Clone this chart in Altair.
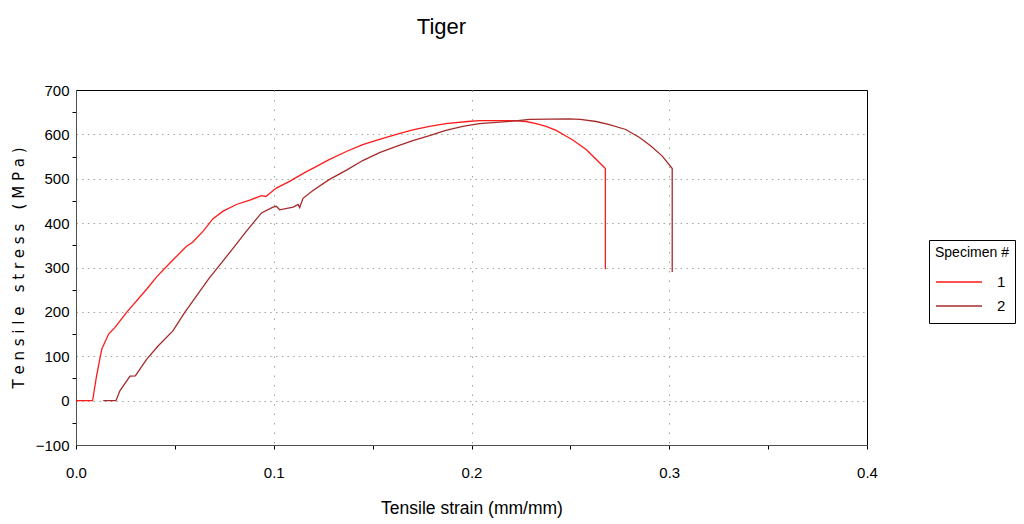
import altair as alt
import pandas as pd

# ---- data ----
s1_strain = [0.0, 0.0084, 0.0104, 0.013, 0.0165, 0.0197, 0.0256, 0.0357, 0.041, 0.0475,
             0.0559, 0.059, 0.0643, 0.0693, 0.0744, 0.0811, 0.0879, 0.0938, 0.096, 0.1013,
             0.108, 0.1165, 0.12, 0.128, 0.137, 0.145, 0.1535, 0.162, 0.1703, 0.1788,
             0.187, 0.198, 0.204, 0.221, 0.2276, 0.2327, 0.2377, 0.2428, 0.2486, 0.251,
             0.258, 0.263, 0.2677, 0.2677]
s1_stress = [0, 0, 56, 116, 150, 165, 199, 251, 280, 310,
             348, 357, 382, 410, 427, 442, 452, 462, 460, 479,
             494, 516, 524, 543, 562, 577, 589, 600, 610, 618,
             624, 629, 631, 631, 629, 624, 618, 609, 594, 588,
             566, 544, 523, 296]

s2_strain = [0.0138, 0.0202, 0.0222, 0.0273, 0.030, 0.0357, 0.0415, 0.049, 0.055, 0.067,
             0.0794, 0.0862, 0.0938, 0.0996, 0.1013, 0.103, 0.1098, 0.1123, 0.1131, 0.1148,
             0.12, 0.128, 0.137, 0.145, 0.1535, 0.162, 0.1703, 0.1788, 0.187, 0.1956,
             0.204, 0.2125, 0.221, 0.2293, 0.2495, 0.255, 0.263, 0.2697, 0.278, 0.285,
             0.2907, 0.2965, 0.3015, 0.3015]
s2_stress = [0, 0, 22, 55, 56, 93, 123, 157, 199, 274,
             343, 382, 423, 436, 438, 430, 436, 442, 435, 456,
             474, 498, 520, 541, 559, 573, 586, 597, 609, 618,
             624, 627, 630, 634, 635, 634, 629, 622, 611, 593,
             574, 551, 523, 290]

specimens = ["1", "2"]
colors = ["#ff1a1a", "#a52a2a"]

x_ticks = [0.0, 0.05, 0.1, 0.15, 0.2, 0.25, 0.3, 0.35, 0.4]
y_ticks = [-100, -50, 0, 50, 100, 150, 200, 250, 300, 350, 400, 450, 500, 550, 600, 650, 700]

rows = []
for i, (sx, sy) in enumerate(zip(s1_strain, s1_stress)):
    rows.append({"strain": sx, "stress": sy, "specimen": "1", "idx": i})
for i, (sx, sy) in enumerate(zip(s2_strain, s2_stress)):
    rows.append({"strain": sx, "stress": sy, "specimen": "2", "idx": i})
df = pd.DataFrame(rows)

FONT = "Liberation Sans"
GRID = "#a5a595"
NB = "\u00a0"
y_title = "T e n s i l e" + NB + NB + " s t r e s s" + NB + NB + " ( M P a )"

x_axis = alt.Axis(
    values=x_ticks,
    title="Tensile strain (mm/mm)",
    labelExpr="(round(datum.value*100) % 10 === 0) ? format(datum.value, '.1f') : ''",
    labelFont=FONT, labelFontSize=15, labelColor="black", labelPadding=16, labelFlush=False,
    titleFont=FONT, titleFontSize=17.5, titleFontWeight="normal", titleColor="black",
    titleBaseline="middle", titleAlign="center", titleX=395.5, titleY=63,
    tickColor="black", tickSize=4,
    domainColor="#505050",
    grid=True,
    gridColor=GRID,
    gridDash=[1.5, 8],
    gridOpacity={"condition": {"test": "round(datum.value*100) % 10 === 0 && datum.value > 0.001 && datum.value < 0.399", "value": 1}, "value": 0},
)

y_axis = alt.Axis(
    values=y_ticks,
    title=y_title,
    labelExpr="(datum.value % 100 === 0) ? datum.label : ''",
    labelFont=FONT, labelFontSize=15, labelColor="black", labelPadding=3, labelFlush=False,
    titleFont="DejaVu Sans", titleFontSize=15, titleFontWeight="normal", titleColor="black",
    titleBaseline="middle", titleAlign="center", titleAngle=270, titleX=-58, titleY=177.5,
    tickColor="black", tickSize=4,
    tickOpacity={"condition": {"test": "datum.value % 100 !== 0", "value": 1}, "value": 0},
    domainColor="#505050",
    grid=True,
    gridColor=GRID,
    gridDash=[1.5, 4.2],
    gridOpacity={"condition": {"test": "datum.value % 100 === 0 && datum.value >= 0 && datum.value < 700", "value": 1}, "value": 0},
)

chart = alt.Chart(df).mark_line(strokeWidth=1.3, clip=True).encode(
    x=alt.X("strain:Q", scale=alt.Scale(domain=[0, 0.4], nice=False, zero=False), axis=x_axis),
    y=alt.Y("stress:Q", scale=alt.Scale(domain=[-100, 700], nice=False), axis=y_axis),
    color=alt.Color(
        "specimen:N",
        scale=alt.Scale(domain=specimens, range=colors),
        legend=alt.Legend(
            title="Specimen #",
            orient="none", legendX=853, legendY=150,
            strokeColor="black", fillColor="white", padding=6,
            titleFont=FONT, titleFontSize=14, titleFontWeight="normal", titleColor="black",
            labelFont=FONT, labelFontSize=15, labelColor="black",
            symbolType="stroke", symbolSize=2116, symbolStrokeWidth=1.3,
            labelOffset=14, rowPadding=2, titlePadding=11, clipHeight=22,
        ),
    ),
    order="idx:Q",
).properties(
    width=791,
    height=355,
    title=alt.TitleParams("Tiger", font=FONT, fontSize=22, fontWeight="normal",
                          color="black", anchor="middle", frame="group", dx=-30, offset=44),
    autosize=alt.AutoSizeParams(type="none"),
    padding={"left": 68, "top": 82, "right": 149, "bottom": 74},
).configure_view(stroke="black", strokeWidth=1)

chart.save("out.html", embed_options={"renderer": "svg", "actions": False})
